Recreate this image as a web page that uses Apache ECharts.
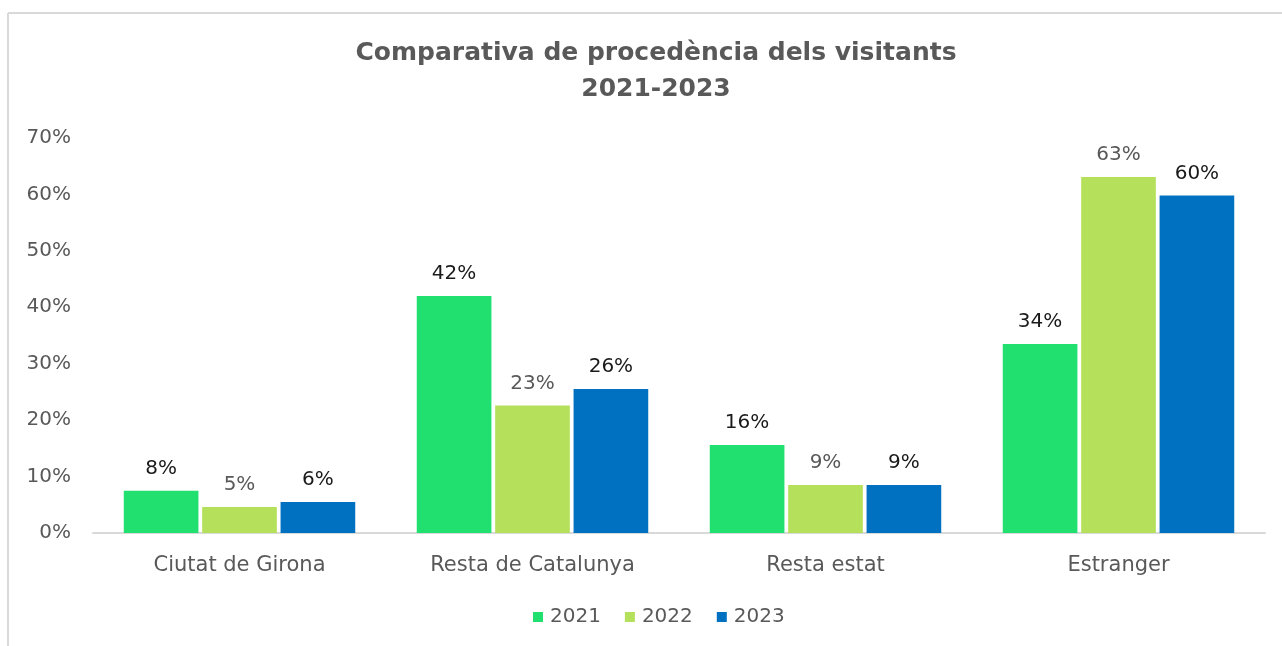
<!DOCTYPE html>
<html>
<head>
<meta charset="utf-8">
<title>Comparativa de procedència dels visitants</title>
<script src="https://cdn.jsdelivr.net/npm/echarts@6/dist/echarts.min.js"></script>
<style>
  html, body { margin: 0; padding: 0; background: #fff; }
  #chart { width: 1282px; height: 646px; }
</style>
</head>
<body>
<div id="chart"></div>
<script>
// dades
var categories = ['Ciutat de Girona', 'Resta de Catalunya', 'Resta estat', 'Estranger'];
var years = ['2021', '2022', '2023'];
var values2021 = [7.5, 42.0, 15.6, 33.5];
var values2022 = [4.6, 22.6, 8.5, 63.1];
var values2023 = [5.5, 25.5, 8.5, 59.8];
var yTicks = [0, 10, 20, 30, 40, 50, 60, 70];

var colors = ['#22e06f', '#b5e05c', '#0070c0'];
var labelColors = ['#1a1a1a', '#595959', '#1a1a1a'];
var font = '"DejaVu Sans", sans-serif';

var chart = echarts.init(document.getElementById('chart'));

function serie(i, data) {
  return {
    name: years[i],
    type: 'bar',
    data: data,
    barGap: '5%',
    barCategoryGap: '21%',
    itemStyle: { color: colors[i] },
    label: {
      show: true,
      position: 'top',
      distance: 12,
      color: labelColors[i],
      fontFamily: font,
      fontSize: 20,
      formatter: function (p) { return Math.round(p.value) + '%'; }
    }
  };
}

chart.setOption({
  backgroundColor: '#fff',
  title: {
    text: 'Comparativa de procedència dels visitants\n2021-2023',
    left: 651,
    textAlign: 'center',
    top: 30,
    textStyle: {
      fontFamily: font,
      fontSize: 25,
      fontWeight: 'bold',
      color: '#595959',
      lineHeight: 36
    }
  },
  legend: {
    data: years,
    bottom: 14,
    left: 528,
    icon: 'rect',
    itemWidth: 10,
    itemHeight: 10,
    itemGap: 24,
    textStyle: { fontFamily: font, fontSize: 20, color: '#595959', padding: [0, 0, 0, 2] }
  },
  grid: { left: 93, right: 17, top: 138, bottom: 113 },
  xAxis: {
    type: 'category',
    data: categories,
    axisLine: { lineStyle: { color: '#d9d9d9', width: 2 } },
    axisTick: { show: false },
    axisLabel: { fontFamily: font, fontSize: 21, color: '#595959', margin: 22 }
  },
  yAxis: {
    type: 'value',
    min: yTicks[0],
    max: yTicks[yTicks.length - 1],
    interval: 10,
    splitLine: { show: false },
    axisLine: { show: false },
    axisTick: { show: false },
    axisLabel: {
      fontFamily: font, fontSize: 20, color: '#595959', margin: 22,
      formatter: '{value}%'
    }
  },
  graphic: [
    { type: 'line', shape: { x1: 8, y1: 13, x2: 1282, y2: 13 }, style: { stroke: '#d9d9d9', lineWidth: 2 } },
    { type: 'line', shape: { x1: 8, y1: 13, x2: 8, y2: 646 }, style: { stroke: '#d9d9d9', lineWidth: 2 } }
  ],
  series: [
    serie(0, values2021),
    serie(1, values2022),
    serie(2, values2023)
  ]
});
</script>
</body>
</html>
